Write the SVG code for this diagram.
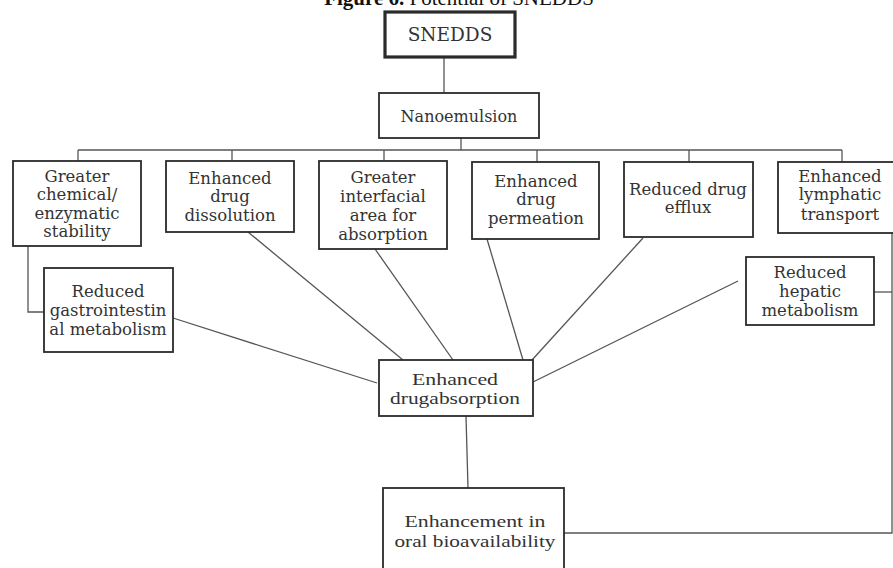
<svg xmlns="http://www.w3.org/2000/svg" width="893" height="568" viewBox="0 0 893 568">
<style>
.bx{fill:#fff;stroke:#2b2b2b;stroke-width:1.8}
.thick{stroke-width:3.2}
.t{font-family:"DejaVu Serif","Liberation Serif",serif;font-size:16.5px;fill:#333;text-anchor:middle}
.tt{font-family:"Liberation Serif","Times New Roman",serif;font-size:17px;fill:#333;text-anchor:middle}
.ln{fill:none;stroke:#555;stroke-width:1.3}
</style>
<rect width="893" height="568" fill="#fff"/>
<text x="459" y="5" font-family="Liberation Serif, serif" font-size="21" text-anchor="middle" fill="#111"><tspan font-weight="bold">Figure 6.</tspan> Potential of SNEDDS</text>
<g id="connectors">
<line class="ln" x1="444" y1="57" x2="444" y2="93"/>
<line class="ln" x1="461" y1="138" x2="461" y2="150"/>
<line class="ln" x1="78" y1="150" x2="842" y2="150"/>
<line class="ln" x1="78" y1="150" x2="78" y2="161"/>
<line class="ln" x1="232" y1="150" x2="232" y2="161"/>
<line class="ln" x1="384" y1="150" x2="384" y2="161"/>
<line class="ln" x1="537" y1="150" x2="537" y2="162"/>
<line class="ln" x1="689" y1="150" x2="689" y2="162"/>
<line class="ln" x1="842" y1="150" x2="842" y2="162"/>
<polyline class="ln" points="28,246 28,312 44,312"/>
<line class="ln" x1="248" y1="232" x2="403" y2="360"/>
<line class="ln" x1="375" y1="249" x2="453" y2="360"/>
<line class="ln" x1="487" y1="239" x2="523" y2="360"/>
<line class="ln" x1="643" y1="238" x2="532" y2="360"/>
<line class="ln" x1="738" y1="281" x2="533" y2="382"/>
<line class="ln" x1="173" y1="318" x2="377" y2="383"/>
<line class="ln" x1="466" y1="416" x2="468" y2="488"/>
<polyline class="ln" points="892,233 892,533 564,533"/>
<line class="ln" x1="874" y1="292" x2="892" y2="292"/>
</g>
<g id="snedds">
<rect class="bx thick" x="385" y="12" width="130" height="45"/>
<text class="t" x="450" y="41" style="font-size:18.5px">SNEDDS</text>
</g>
<g id="nanoemulsion">
<rect class="bx" x="379" y="93" width="160" height="45"/>
<text class="t" x="459" y="122" style="font-size:16px">Nanoemulsion</text>
</g>
<g id="stability">
<rect class="bx" x="13" y="161" width="128" height="85"/>
<text class="t" x="77" y="182">Greater</text>
<text class="t" x="77" y="200">chemical/</text>
<text class="t" x="77" y="218.5">enzymatic</text>
<text class="t" x="77" y="237">stability</text>
</g>
<g id="dissolution">
<rect class="bx" x="166" y="161" width="128" height="71"/>
<text class="t" x="230" y="184">Enhanced</text>
<text class="t" x="230" y="202">drug</text>
<text class="t" x="230" y="221">dissolution</text>
</g>
<g id="interfacial">
<rect class="bx" x="319" y="161" width="128" height="88"/>
<text class="t" x="383" y="183">Greater</text>
<text class="t" x="383" y="202">interfacial</text>
<text class="t" x="383" y="221">area for</text>
<text class="t" x="383" y="240">absorption</text>
</g>
<g id="permeation">
<rect class="bx" x="472" y="162" width="127" height="77"/>
<text class="t" x="536" y="187">Enhanced</text>
<text class="t" x="536" y="205">drug</text>
<text class="t" x="536" y="224">permeation</text>
</g>
<g id="efflux">
<rect class="bx" x="624" y="162" width="129" height="75"/>
<text class="t" x="688" y="195">Reduced drug</text>
<text class="t" x="688" y="213">efflux</text>
</g>
<g id="lymphatic">
<rect class="bx" x="778" y="162" width="120" height="71"/>
<text class="t" x="840" y="182">Enhanced</text>
<text class="t" x="840" y="200">lymphatic</text>
<text class="t" x="840" y="220">transport</text>
</g>
<g id="gi">
<rect class="bx" x="44" y="268" width="129" height="84"/>
<text class="t" x="108" y="297">Reduced</text>
<text class="t" x="108" y="316">gastrointestin</text>
<text class="t" x="108" y="335">al metabolism</text>
</g>
<g id="hepatic">
<rect class="bx" x="746" y="257" width="128" height="68"/>
<text class="t" x="810" y="278">Reduced</text>
<text class="t" x="810" y="297">hepatic</text>
<text class="t" x="810" y="316">metabolism</text>
</g>
<g id="absorption">
<rect class="bx" x="379" y="360" width="154" height="56"/>
<text class="tt" x="455" y="385" textLength="86" lengthAdjust="spacingAndGlyphs">Enhanced</text>
<text class="tt" x="455" y="404" textLength="130" lengthAdjust="spacingAndGlyphs">drugabsorption</text>
</g>
<g id="bioavailability">
<rect class="bx" x="383" y="488" width="181" height="90"/>
<text class="tt" x="475" y="527" textLength="141" lengthAdjust="spacingAndGlyphs">Enhancement in</text>
<text class="tt" x="475" y="547" textLength="161" lengthAdjust="spacingAndGlyphs">oral bioavailability</text>
</g>
</svg>
